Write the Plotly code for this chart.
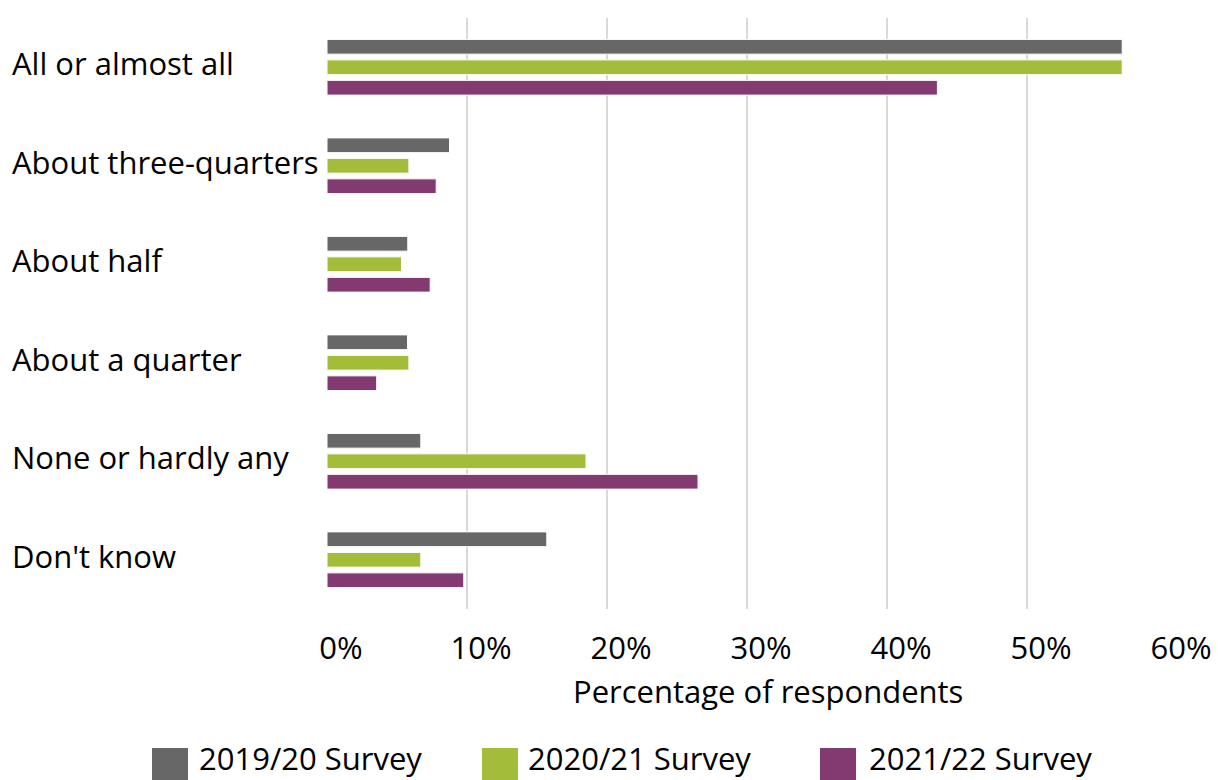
import plotly.graph_objects as go

categories = ["All or almost all", "About three-quarters", "About half",
              "About a quarter", "None or hardly any", "Don't know"]
series_names = ["2019/20 Survey", "2020/21 Survey", "2021/22 Survey"]
s2019 = [56.8, 8.75, 5.77, 5.75, 6.7, 15.7]
s2020 = [56.8, 5.85, 5.32, 5.85, 18.5, 6.7]
s2021 = [43.6, 7.8, 7.37, 3.55, 26.5, 9.77]
colors = ["#666766", "#a3bd3a", "#833a71"]
x_ticks = [0, 10, 20, 30, 40, 50, 60]
x_tick_labels = ["0%", "10%", "20%", "30%", "40%", "50%", "60%"]
x_title = "Percentage of respondents"

FONT = "Open Sans"
FS = 31
W, H = 1218, 780
L, R, T, B = 327, 51, 18, 171
pw, ph = W - L - R, H - T - B

fig = go.Figure()
for name, vals, c in zip(series_names, [s2019, s2020, s2021], colors):
    fig.add_trace(go.Bar(
        y=categories, x=vals, name=name, orientation="h",
        marker=dict(color=c, line=dict(color="white", width=1)),
        showlegend=False,
    ))

def px2paper_x(px):
    return (px - L) / pw

def px2paper_y(py):
    return (H - B - py) / ph

annotations = []
for cat in categories:
    annotations.append(dict(
        x=px2paper_x(10), xref="paper", y=cat, yref="y",
        text=cat, showarrow=False, xanchor="left", yanchor="middle",
        yshift=4, font=dict(family=FONT, size=FS, color="#000000"),
    ))

annotations.append(dict(
    x=px2paper_x(768), xref="paper", y=px2paper_y(691), yref="paper",
    text=x_title, showarrow=False, xanchor="center", yanchor="middle",
    font=dict(family=FONT, size=FS, color="#000000"),
))

shapes = []
leg_sq_x = [152, 482, 820]
leg_txt_x = [197, 526, 867]
for name, c, sx, tx in zip(series_names, colors, leg_sq_x, leg_txt_x):
    shapes.append(dict(
        type="rect", xref="paper", yref="paper",
        x0=px2paper_x(sx), x1=px2paper_x(sx + 36),
        y0=px2paper_y(785), y1=px2paper_y(748),
        fillcolor=c, line=dict(width=0), layer="above",
    ))
    annotations.append(dict(
        x=px2paper_x(tx), xref="paper", y=px2paper_y(758), yref="paper",
        text=name, showarrow=False, xanchor="left", yanchor="middle",
        font=dict(family=FONT, size=FS, color="#000000"),
    ))

fig.update_layout(
    width=W, height=H,
    margin=dict(l=L, r=R, t=T, b=B, pad=0, autoexpand=False),
    paper_bgcolor="white", plot_bgcolor="white",
    barmode="group", bargap=0.376, bargroupgap=0.28,
    font=dict(family=FONT, size=FS, color="#000000"),
    xaxis=dict(
        range=[0, 60], tickvals=x_ticks, ticktext=x_tick_labels,
        showgrid=True, gridcolor="#d9d9d9", gridwidth=2,
        zeroline=False, showline=False, ticks="",
        tickfont=dict(family=FONT, size=FS, color="#000000"),
        ticklabelstandoff=18, ticklabelshift=14,
        automargin=False, fixedrange=True,
    ),
    yaxis=dict(
        categoryorder="array", categoryarray=categories,
        autorange="reversed", showticklabels=False, automargin=False,
        showgrid=False, zeroline=False, showline=False, ticks="",
    ),
    annotations=annotations,
    shapes=shapes,
)

fig.write_html("out.html")
